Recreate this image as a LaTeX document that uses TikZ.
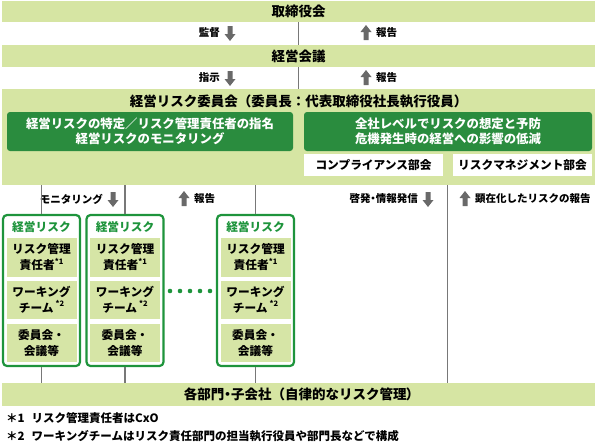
\documentclass[tikz,border=0pt]{standalone}
\usepackage{fontspec}
\setmainfont{Noto Sans CJK JP}
\newfontfamily\jpprop{Noto Sans CJK JP}[RawFeature=+palt]
\usetikzlibrary{positioning}

\definecolor{barGreen}{RGB}{214,229,163}
\definecolor{boxGreen}{RGB}{42,140,62}
\definecolor{colGreen}{RGB}{30,148,60}
\definecolor{cellGreen}{RGB}{214,229,166}
\definecolor{arrGray}{RGB}{105,105,105}
\definecolor{lineGray}{RGB}{120,120,120}

\newcommand\fnmark[1]{\raisebox{0.5em}{\fontsize{7.5}{7.5}\selectfont *#1}}

\tikzset{
  bar/.style={fill=barGreen, inner sep=0pt, font=\bfseries\fontsize{13.5}{15}\selectfont},
  lbl/.style={inner sep=0pt, font=\bfseries\fontsize{10.5}{12}\selectfont},
  vline/.style={draw=lineGray, line width=1.5pt},
  taskbox/.style={fill=boxGreen, rounded corners=3pt, text=white, align=center, inner sep=0pt,
    font=\bfseries\fontsize{12.4}{15.5}\selectfont, minimum height=39pt},
  subbox/.style={fill=white, inner sep=0pt, minimum width=139pt, minimum height=22pt,
    font=\bfseries\fontsize{11.7}{13}\selectfont},
  colbox/.style={draw=colGreen, line width=2.2pt, fill=white, rounded corners=4pt,
    minimum width=77pt, minimum height=151pt, inner sep=0pt},
  coltitle/.style={text=colGreen, inner sep=0pt, font=\bfseries\fontsize{11.7}{13}\selectfont},
  cell/.style={fill=cellGreen, align=center, inner sep=0pt, minimum width=70pt, minimum height=38pt,
    font=\bfseries\fontsize{11.7}{16}\selectfont},
  note/.style={inner sep=0pt, font=\bfseries\fontsize{11.5}{13}\selectfont},
  downArr/.pic={\fill[arrGray] (-2.5,-7) -- (2.5,-7) -- (2.5,1) -- (5.5,1) -- (0,8) -- (-5.5,1) -- (-2.5,1) -- cycle;},
  upArr/.pic={\fill[arrGray] (-2.5,7) -- (2.5,7) -- (2.5,-1) -- (5.5,-1) -- (0,-8) -- (-5.5,-1) -- (-2.5,-1) -- cycle;}
}

\begin{document}
\begin{tikzpicture}[x=1pt, y=-1pt]
\useasboundingbox (0,0) rectangle (597,442);

% board and management meeting
\node[bar, minimum width=593pt, minimum height=21pt] (board) at (298.5,11.5) {取締役会};
\node[bar, minimum width=593pt, minimum height=22pt] (mgmt) at (298.5,56) {経営会議};
\draw[vline] (board.south) -- (mgmt.north);

\node[lbl, anchor=east] (superv) at (220,33) {監督};
\pic at (230,33) {downArr};
\pic at (366,33) {upArr};
\node[lbl, anchor=west] (report1) at (376,33) {報告};

% risk committee
\node[bar, minimum width=593pt, minimum height=96pt] (panel) at (298.5,137) {};
\node[bar, fill=none] (panelT) at (298.5,101) {経営リスク委員会（委員長：代表取締役社長執行役員）};
\draw[vline] (mgmt.south) -- (mgmt.south |- panel.north);

\node[lbl, anchor=east] (instr) at (220,78) {指示};
\pic at (230,78) {downArr};
\pic at (366,78) {upArr};
\node[lbl, anchor=west] (report2) at (376,78) {報告};

\node[taskbox, minimum width=286pt] (taskL) at (150,131.5) {経営リスクの特定／リスク管理責任者の指名\\経営リスクのモニタリング};
\node[taskbox, minimum width=288pt] (taskR) at (448,131.5) {全社レベルでリスクの想定と予防\\危機発生時の経営への影響の低減};
\node[subbox] (compl) at (373.5,165) {コンプライアンス部会};
\node[subbox] (riskmg) at (522.5,165) {リスクマネジメント部会};

% departments
\node[bar, minimum width=593pt, minimum height=23pt] (depts) at (298.5,394.5) {{\jpprop 各部門・子会社}（自律的なリスク管理{\jpprop ）}};

\coordinate (split) at (447.5,0);
\draw[vline] (split |- panel.south) -- (split |- depts.north);

\node[lbl, anchor=east] (monit) at (103,199) {モニタリング};
\pic at (113,199) {downArr};
\pic at (184,199) {upArr};
\node[lbl, anchor=west] (report3) at (194,199) {報告};
\node[lbl, anchor=east] (inform) at (418,199) {\jpprop 啓発・情報発信};
\pic at (428,199) {downArr};
\pic at (465,199) {upArr};
\node[lbl, anchor=west] (report4) at (475,199) {顕在化したリスクの報告};

% risk owner columns
\foreach \n/\cx in {1/41.5, 2/125, 3/255.5} {
  \node[colbox] (col\n) at (\cx,290.5) {};
  \node[coltitle] (col\n-t) at (\cx,227) {経営リスク};
  \node[cell, minimum height=39pt] (col\n-a) at (\cx,257.5) {リスク管理\\責任者\fnmark{1}};
  \node[cell] (col\n-b) at (\cx,300) {ワーキング\\チーム\,\fnmark{2}};
  \node[cell] (col\n-c) at (\cx,343) {委員会・\\会議等};
  \draw[vline] (col\n.north) -- (col\n.north |- panel.south);
  \draw[vline] (col\n.south) -- (col\n.south |- depts.north);
}
\foreach \dx in {170,180,...,210}
  \fill[colGreen] (\dx,291) circle (2.3pt);

% notes
\node[note, anchor=west] (note1) at (6,418) {＊1\hspace{7pt}リスク管理責任者はCxO};
\node[note, anchor=west] (note2) at (6,436) {＊2\hspace{7pt}ワーキングチームはリスク責任部門の担当執行役員や部門長などで構成};
\end{tikzpicture}
\end{document}
